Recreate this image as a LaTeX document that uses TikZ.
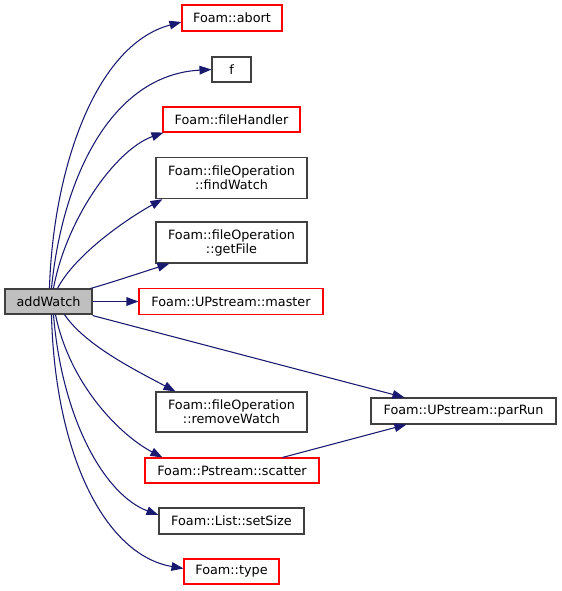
\documentclass[tikz,border=0pt]{standalone}
\usepackage{fontspec}
\setmainfont{DejaVu Sans}
\usetikzlibrary{arrows.meta,calc}
\definecolor{edgeblue}{HTML}{191970}
\definecolor{boxgray}{HTML}{404040}
\definecolor{fillgray}{HTML}{BFBFBF}
\tikzset{
  fn/.style={draw=boxgray, line width=0.8pt, rectangle, inner sep=0pt, align=center,
    font=\fontsize{9.6}{10.5}\selectfont},
  redfn/.style={fn, draw=red},
  mainfn/.style={fn, fill=fillgray},
  call/.style={draw=edgeblue, line width=0.8pt, -{Triangle[length=9pt,width=6.5pt]}, fill=none},
}
\begin{document}
\begin{tikzpicture}[x=0.75pt,y=-0.75pt]
\useasboundingbox (0,0) rectangle (561,591);
\node[mainfn, minimum width=65.25pt, minimum height=18.75pt] (addWatch) at (48.5,301.5) {addWatch};
\node[redfn, minimum width=75pt, minimum height=19.5pt] (abort) at (232,18) {Foam::abort};
\node[fn, minimum width=29.25pt, minimum height=18.75pt] (f) at (231.5,69.5) {f};
\node[redfn, minimum width=102.75pt, minimum height=18.75pt] (fileHandler) at (231.5,119.5) {Foam::fileHandler};
\node[fn, minimum width=113.25pt, minimum height=31pt] (findWatch) at (231.5,178) {Foam::fileOperation\\::findWatch};
\node[fn, minimum width=113.25pt, minimum height=30.75pt] (getFile) at (231.5,242.5) {Foam::fileOperation\\::getFile};
\node[redfn, minimum width=138pt, minimum height=19.5pt] (master) at (231,301.5) {Foam::UPstream::master};
\node[fn, minimum width=113.25pt, minimum height=30pt] (removeWatch) at (231.5,412) {Foam::fileOperation\\::removeWatch};
\node[fn, minimum width=138.75pt, minimum height=19.5pt] (parRun) at (463.5,411) {Foam::UPstream::parRun};
\node[redfn, minimum width=130.5pt, minimum height=18.75pt] (scatter) at (232,470.5) {Foam::Pstream::scatter};
\node[fn, minimum width=108.75pt, minimum height=19.5pt] (setSize) at (231.5,521) {Foam::List::setSize};
\node[redfn, minimum width=71.25pt, minimum height=18.75pt] (type) at (231.5,571.5) {Foam::type};

\draw[call] ($(addWatch.north west)+(45,0)$) .. controls (53,170) and (95,45) .. ($(abort.west)+(0,4)$);
\draw[call] ($(addWatch.north west)+(47,0)$) .. controls (62,180) and (110,75) .. (f.west);
\draw[call] ($(addWatch.north west)+(49,0)$) .. controls (66,220) and (115,150) .. ($(fileHandler.south west)+(1,0)$);
\draw[call] ($(addWatch.north west)+(53,0)$) .. controls (75,255) and (125,220) .. ($(findWatch.south west)+(7,0)$);
\draw[call] ($(addWatch.north east)+(-2,0)$) .. controls (110,283) and (140,273) .. ($(getFile.south west)+(14,0)$);
\draw[call] (addWatch.east) -- (master.west);
\draw[call] ($(addWatch.south east)+(0,1)$) -- ($(parRun.north west)+(34,0)$);
\draw[call] ($(addWatch.south west)+(60,0)$) .. controls (85,345) and (135,370) .. ($(removeWatch.north west)+(20,0)$);
\draw[call] ($(addWatch.south west)+(51,0)$) .. controls (70,385) and (120,435) .. ($(scatter.north west)+(18,0)$);
\draw[call] ($(addWatch.south west)+(49,0)$) .. controls (62,420) and (105,495) .. ($(setSize.west)+(0,-6)$);
\draw[call] ($(addWatch.south west)+(47,0)$) .. controls (55,455) and (105,555) .. ($(type.west)+(0,-3)$);
\draw[call] ($(scatter.north west)+(138,0)$) -- ($(parRun.south west)+(36,0)$);
\end{tikzpicture}
\end{document}
